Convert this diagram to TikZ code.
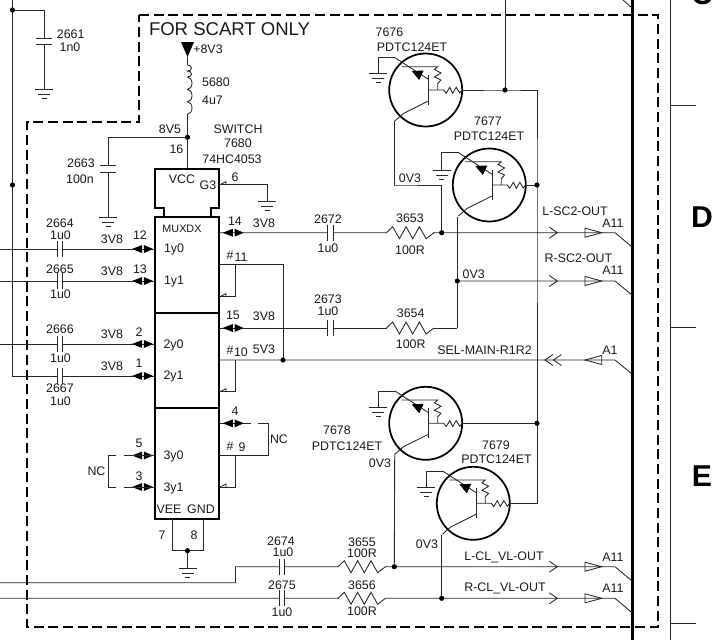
\documentclass[tikz,border=0pt]{standalone}
\usepackage{fontspec}
\setmainfont{Liberation Sans}
\usetikzlibrary{calc}
\tikzset{
	wire/.style={line width=0.65pt, color=black!85},
	box/.style={line width=1.8pt, color=black},
	lbl/.style={inner sep=0pt, font=\fontsize{9.3}{10}\selectfont, text depth=0pt, color=black!90},
	dot/.style={fill=black, draw=none},
	plate/.style={line width=0.75pt, color=black!85},
}
\def\gndsym(#1){\draw[wire] ($(#1)+(-9,0)$) -- ($(#1)+(9,0)$);
	\draw[wire] ($(#1)+(-6,5)$) -- ($(#1)+(6,5)$);
	\draw[wire] ($(#1)+(-2.5,9)$) -- ($(#1)+(2.5,9)$);}
\def\junction(#1){\fill[dot] (#1) circle (2.6);}
\def\hcap(#1){\fill[white] ($(#1)+(-2.4,-2)$) rectangle ($(#1)+(2.4,2)$);
	\draw[plate] ($(#1)+(-2.7,-8)$) -- ($(#1)+(-2.7,8)$);
	\draw[plate] ($(#1)+(2.7,-8)$) -- ($(#1)+(2.7,8)$);}
\def\vcap(#1){\fill[white] ($(#1)+(-2,-3.2)$) rectangle ($(#1)+(2,3.2)$);
	\draw[plate] ($(#1)+(-8,-3.4)$) -- ($(#1)+(8,-3.4)$);
	\draw[plate] ($(#1)+(-8,3.4)$) -- ($(#1)+(8,3.4)$);}
\def\resistor(#1){\fill[white] ($(#1)+(-23,-2)$) rectangle ($(#1)+(23,2)$);
	\draw[wire] ($(#1)+(-24,0)$) -- ++(6.3,-6) -- ++(6.7,12) -- ++(6.7,-12) -- ++(6.6,12) -- ++(6.7,-12) -- ++(6.7,12) -- ++(7.8,-6);}
\def\pinmark(#1){\fill ($(#1)+(-11,0)$) -- ($(#1)+(-0.8,-4)$) -- ($(#1)+(-0.8,4)$) -- cycle;
	\fill ($(#1)+(10,0)$) -- ($(#1)+(0.8,-4)$) -- ($(#1)+(0.8,4)$) -- cycle;}
\def\tick(#1){\draw[wire] (#1) -- ++(6,-3) -- ++(0,3);}
\def\outmark(#1){\draw[wire] ($(#1)+(-8,-5.5)$) -- (#1) -- ($(#1)+(-8,5.5)$);
	\draw[wire] ($(#1)+(27.7,-4.5)$) -- ($(#1)+(44.4,0)$) -- ($(#1)+(27.7,4.5)$) -- cycle;}
\def\transistor(#1){\begin{scope}[shift={(#1)}]
	\draw[line width=1.3pt] (0,0) circle (36.5);
	\draw[wire] (2.7,-15) -- (2.7,15);
	\draw[wire] (-30.7,-32.3) -- (2.7,-10.7);
	\fill (-14,-19) -- (-2,-19.5) -- (-6.5,-10) -- cycle;
	\draw[wire] (-24,-23.3) -- (12,-23.3) -- (8.7,-20.5) -- (15.3,-17) -- (8.7,-13) -- (15.3,-10) -- (12,-6.5) -- (12,0);
	\draw[wire] (2.7,0) -- (18,0) -- (20.5,3.3) -- (24,-2.7) -- (27,3.3) -- (30.5,-2.7) -- (34,3) -- (36.5,0);
	\draw[wire] (2.7,11) -- (-22,23.3) -- (-31,31);
	\end{scope}}

\begin{document}
\begin{tikzpicture}[x=0.75pt, y=-0.75pt]
	\useasboundingbox (0,0) rectangle (715,640);
	\clip (0,0) rectangle (715,640);
	%%%%% START %%%%%

	% frame and page rulers
	\draw[line width=2pt, dash pattern=on 7.5pt off 3.5pt] (139,15) -- (658,15) -- (658,627) -- (27,627) -- (27,122) -- (139,122) -- cycle;
	\draw[line width=2.6pt] (632.5,0) -- (632.5,640);
	\coordinate (rulertop) at (670.5,0);
	\coordinate (rulerbot) at (670.5,640);
	\draw[wire] (rulertop) -- (rulerbot);
	\draw[wire] (670.5,105) -- (696,105);
	\draw[wire] (670.5,327) -- (696,327);
	\draw[wire] (670.5,623) -- (696,623);
	\draw[wire] (623,0) -- (632,8);
	\node[inner sep=0pt, font=\fontsize{22.6}{24}\selectfont\bfseries] (sheetc) at (702,-6) {C};
	\node[inner sep=0pt, font=\fontsize{22.6}{24}\selectfont\bfseries] (sheetd) at (702,217) {D};
	\node[inner sep=0pt, font=\fontsize{22.6}{24}\selectfont\bfseries] (sheete) at (702,476) {E};

	% named points
	\coordinate (railtop) at (12.5,0);
	\coordinate (rail1) at (12.5,10);
	\coordinate (rail2) at (12.5,185);
	\coordinate (rail3) at (12.5,376);
	\coordinate (g2661) at (44,89);
	\coordinate (c2661) at (44,41.5);
	\coordinate (supply) at (187.5,57);
	\coordinate (vccdot) at (187.5,137.3);
	\coordinate (vcctop) at (187.5,169);
	\coordinate (c2663) at (108,169);
	\coordinate (g2663) at (108,217);
	\coordinate (g3pin) at (220,184.7);
	\coordinate (g3gnd) at (267,201);
	\coordinate (t1) at (425.7,90);
	\coordinate (t2) at (489.3,185);
	\coordinate (t3) at (425.7,423.3);
	\coordinate (t4) at (473.3,503.3);
	\coordinate (basedot1) at (505,90);
	\coordinate (basedot2) at (537,185);
	\coordinate (basedot3) at (537,423.3);
	\coordinate (sw1) at (394.3,185);
	\coordinate (sw2) at (441.7,185);
	\coordinate (lsc) at (441.7,232.7);
	\coordinate (rsc) at (457.3,281);
	\coordinate (r3654end) at (457.3,328);
	\coordinate (lcl) at (394.3,566.7);
	\coordinate (rcl) at (441.7,598.3);
	\coordinate (seldot) at (283,360);

	% supply side
	\draw[wire] (railtop) -- (rail3) -- (155,376);
	\draw[wire] (rail1) -| (g2661);
	\vcap(c2661);
	\gndsym(g2661);
	\draw[wire] (supply) -- ++(0,8);
	\draw[wire] (187.5,65) arc (-90:90:4 and 3) arc (-90:90:4 and 3);
	\draw[wire] (187.5,77) arc (-90:90:4.5 and 6.2) arc (-90:90:4.5 and 6.2) arc (-90:90:4.5 and 6.2);
	\draw[wire] (187.5,114) -- (vccdot) -- (vcctop);
	\fill (181,42) -- (194,42) -- (supply) -- cycle;
	\draw[wire] (vccdot) -| (g2663);
	\vcap(c2663);
	\gndsym(g2663);
	\junction(vccdot);
	\junction(rail1);
	\junction(rail2);
	\draw[wire] (g3pin) -| (g3gnd);
	\gndsym(g3gnd);
	\tick(g3pin);

	% the switch
	\draw[box] (164,217) -- (164,208) -- (155,208) -- (155,169) -- (219,169) -- (219,208) -- (211,208) -- (211,217);
	\draw[box] (155,217) rectangle (219,519);
	\draw[box] (155,312.7) -- (219,312.7);
	\draw[box] (155,408) -- (219,408);

	% left pins
	\draw[wire] (0,249) -- (155,249);
	\draw[wire] (0,281) -- (155,281);
	\draw[wire] (0,344) -- (155,344);
	\hcap(60,249);
	\hcap(60,281);
	\hcap(60,344);
	\hcap(60,376);
	\pinmark(143,249);
	\pinmark(143,281);
	\pinmark(143,344);
	\pinmark(143,376);
	\pinmark(143,455.5);
	\pinmark(143,487);
	\draw[wire] (124,455.5) -- (155,455.5);
	\draw[wire] (124,487) -- (155,487);
	\draw[wire] (116,455.5) -- (108,455.5) -- (108,487) -- (116,487);

	% right pins
	\draw[wire] (219,232.7) -- (lsc) -- (615,232.7) -- (632,247);
	\draw[wire] (219,328) -- (r3654end);
	\draw[wire] (rsc) -- (615,281) -- (632,295);
	\draw[wire] (219,264.7) -| (seldot);
	\draw[wire] (235.5,264.7) |- (219,296.7);
	\draw[wire] (219,360) -- (615,360) -- (632,374);
	\draw[wire] (235.5,360) |- (219,391.7);
	\draw[wire] (219,423.3) -- (251,423.3);
	\draw[wire] (258,423.3) -- (268,423.3) -- (268,455.3) -- (219,455.3);
	\draw[wire] (235.5,455.3) |- (219,487);
	\pinmark(233.7,232.7);
	\pinmark(233.7,328);
	\pinmark(233.7,423.3);
	\tick(220,296.7);
	\tick(220,391.7);
	\tick(220,487);
	\junction(seldot);
	\hcap(330.5,232.7);
	\hcap(330.5,328);
	\resistor(410.4,232.7);
	\resistor(410.4,328);

	% bottom legs
	\draw[wire] (172,519) -- (172,550.7) -- (203,550.7) -- (203,519);
	\coordinate (legdot) at (187.5,550.7);
	\coordinate (leggnd) at (187.5,568);
	\draw[wire] (legdot) -- (leggnd);
	\gndsym(leggnd);
	\junction(legdot);

	% bottom outputs
	\draw[wire] (0,582.7) -- (235.5,582.7) -- (235.5,566.7) -- (lcl) -- (615,566.7) -- (632,581);
	\draw[wire] (0,598.3) -- (rcl) -- (615,598.3) -- (632,612.7);
	\hcap(282,566.7);
	\hcap(282,598.3);
	\resistor(362,566.7);
	\resistor(362,598.3);

	% transistors
	\transistor(t1);
	\transistor(t2);
	\transistor(t3);
	\transistor(t4);
	\draw[wire] (505,0) -- (basedot1);
	\draw[wire] ($(t1)+(36.5,0)$) -- (basedot1) -| (basedot2) -- (basedot3);
	\draw[wire] (basedot3) |- ($(t4)+(36.5,0)$);
	\draw[wire] ($(t2)+(36.5,0)$) -- (basedot2);
	\draw[wire] ($(t3)+(36.5,0)$) -- (basedot3);
	\draw[wire] ($(t1)+(-31,31)$) |- (sw1) -- (sw2) -- (lsc);
	\draw[wire] ($(t2)+(-32,31.7)$) -- (r3654end);
	\draw[wire] ($(t3)+(-31,31)$) -- (lcl);
	\draw[wire] ($(t4)+(-31.6,31.7)$) -- (rcl);
	\coordinate (g1) at (378,73);
	\coordinate (g2) at (441.7,170);
	\coordinate (g3) at (378,407);
	\coordinate (g4) at (426,487);
	\draw[wire] ($(t1)+(-30.7,-32.3)$) -| (g1);
	\draw[wire] ($(t2)+(-30.7,-32.3)$) -| (g2);
	\draw[wire] ($(t3)+(-30.7,-32.3)$) -| (g3);
	\draw[wire] ($(t4)+(-30.7,-32.3)$) -| (g4);
	\gndsym(g1);
	\gndsym(g2);
	\gndsym(g3);
	\gndsym(g4);
	\junction(basedot1);
	\junction(basedot2);
	\junction(basedot3);
	\junction(lsc);
	\junction(rsc);
	\junction(lcl);
	\junction(rcl);

	% marks at the outputs
	\outmark(557.3,232.7);
	\outmark(557.3,281);
	\outmark(557.3,566.7);
	\outmark(557.3,598.3);
	\draw[wire] (553,354.5) -- (545,360) -- (553,365.5);
	\draw[wire] (561.5,354.5) -- (553.5,360) -- (561.5,365.5);
	\draw[wire] (601.7,355.5) -- (585,360) -- (601.7,364.5) -- cycle;

	% texts
	\node[lbl, font=\fontsize{13.9}{15}\selectfont] (scartonly) at (229.5,29) {FOR SCART ONLY};
	\node[lbl] (n2661) at (70.7,34) {2661};
	\node[lbl] (v2661) at (70,47) {1n0};
	\node[lbl] (n8v3) at (208,49) {+8V3};
	\node[lbl] (n5680) at (216,82) {5680};
	\node[lbl] (v5680) at (212.5,100) {4u7};
	\node[lbl] (n8v5) at (170,129) {8V5};
	\node[lbl] (nswitch) at (238,129.5) {SWITCH};
	\node[lbl] (n7680) at (238,143) {7680};
	\node[lbl] (n4053) at (232,159) {74HC4053};
	\node[lbl] (p16) at (176.5,149) {16};
	\node[lbl] (n2663) at (81,163) {2663};
	\node[lbl] (v2663) at (80,179) {100n};
	\node[lbl] (nvcc) at (182,179) {VCC};
	\node[lbl] (ng3) at (208,185) {G3};
	\node[lbl] (p6) at (235,177) {6};
	\node[lbl, font=\fontsize{8.1}{9}\selectfont] (nmux) at (182,229) {MUXDX};
	\node[lbl] (p14) at (235,221) {14};
	\node[lbl] (s14) at (264,223) {3V8};
	\node[lbl] (n2672) at (328,219) {2672};
	\node[lbl] (v2672) at (328,248) {1u0};
	\node[lbl] (n3653) at (410,218) {3653};
	\node[lbl] (v3653) at (410,250) {100R};
	\node[lbl] (n2664) at (60,223) {2664};
	\node[lbl] (v2664) at (60.5,235) {1u0};
	\node[lbl] (s12) at (112,239.5) {3V8};
	\node[lbl] (p12) at (140,235) {12};
	\node[lbl] (y10) at (174,248) {1y0};
	\node[lbl] (n2665) at (60,269) {2665};
	\node[lbl] (v2665) at (60.5,294) {1u0};
	\node[lbl] (s13) at (112,271.5) {3V8};
	\node[lbl] (p13) at (140,269) {13};
	\node[lbl] (y11) at (174,280) {1y1};
	\node[lbl] (h11) at (230,255) {\#};
	\node[lbl] (p11) at (241,257) {11};
	\node[lbl] (p15) at (233,315) {15};
	\node[lbl] (s15) at (264,316) {3V8};
	\node[lbl] (n2673) at (328,299) {2673};
	\node[lbl] (v2673) at (328,311) {1u0};
	\node[lbl] (n3654) at (410.7,313) {3654};
	\node[lbl] (v3654) at (410.7,344.5) {100R};
	\node[lbl] (n2666) at (60,329) {2666};
	\node[lbl] (v2666) at (60.5,358) {1u0};
	\node[lbl] (s2) at (112,334) {3V8};
	\node[lbl] (p2) at (139,332) {2};
	\node[lbl] (y20) at (173.5,344) {2y0};
	\node[lbl] (s1) at (112,366) {3V8};
	\node[lbl] (p1) at (139,363) {1};
	\node[lbl] (y21) at (173.5,375) {2y1};
	\node[lbl] (n2667) at (60,388.5) {2667};
	\node[lbl] (v2667) at (60.5,401) {1u0};
	\node[lbl] (h10) at (230,350) {\#};
	\node[lbl] (p10) at (241,352) {10};
	\node[lbl] (s10) at (264,349.5) {5V3};
	\node[lbl] (p4) at (235,411) {4};
	\node[lbl] (h9) at (230,446) {\#};
	\node[lbl] (p9) at (242,447) {9};
	\node[lbl] (ncr) at (279,439) {NC};
	\node[lbl] (ncl) at (96.5,471) {NC};
	\node[lbl] (p5) at (139,443) {5};
	\node[lbl] (p3) at (139,476) {3};
	\node[lbl] (y30) at (173.5,455) {3y0};
	\node[lbl] (y31) at (173.5,487) {3y1};
	\node[lbl] (nvee) at (169,509) {VEE};
	\node[lbl] (ngnd) at (201,509) {GND};
	\node[lbl] (p7) at (162,535) {7};
	\node[lbl] (p8) at (194,535) {8};
	\node[lbl] (n2674) at (281,541) {2674};
	\node[lbl] (v2674) at (283,552) {1u0};
	\node[lbl] (n2675) at (282,585) {2675};
	\node[lbl] (v2675) at (282,612) {1u0};
	\node[lbl] (n3655) at (362,542) {3655};
	\node[lbl] (v3655) at (362,553.5) {100R};
	\node[lbl] (n3656) at (362,585) {3656};
	\node[lbl] (v3656) at (362,611.5) {100R};
	\node[lbl] (n7676) at (389.5,32) {7676};
	\node[lbl] (m7676) at (412,47.5) {PDTC124ET};
	\node[lbl] (n7677) at (488,121) {7677};
	\node[lbl] (m7677) at (489,136.5) {PDTC124ET};
	\node[lbl] (n7678) at (337,430) {7678};
	\node[lbl] (m7678) at (347,446.5) {PDTC124ET};
	\node[lbl] (n7679) at (496,444.7) {7679};
	\node[lbl] (m7679) at (496.5,459) {PDTC124ET};
	\node[lbl] (o1) at (410,178) {0V3};
	\node[lbl] (o2) at (473.7,274) {0V3};
	\node[lbl] (o3) at (380,463) {0V3};
	\node[lbl] (o4) at (427,544) {0V3};
	\node[lbl] (lsco) at (575,211) {L-SC2-OUT};
	\node[lbl] (a1) at (613,223) {A11};
	\node[lbl] (rsco) at (578.5,258) {R-SC2-OUT};
	\node[lbl] (a2) at (613,270) {A11};
	\node[lbl] (selm) at (484.5,350) {SEL-MAIN-R1R2};
	\node[lbl] (a3) at (610,350) {A1};
	\node[lbl] (lclo) at (504,556.5) {L-CL\_VL-OUT};
	\node[lbl] (a4) at (613,557) {A11};
	\node[lbl] (rclo) at (505,587) {R-CL\_VL-OUT};
	\node[lbl] (a5) at (613,588) {A11};

	%%%%% END %%%%%
\end{tikzpicture}
\end{document}
